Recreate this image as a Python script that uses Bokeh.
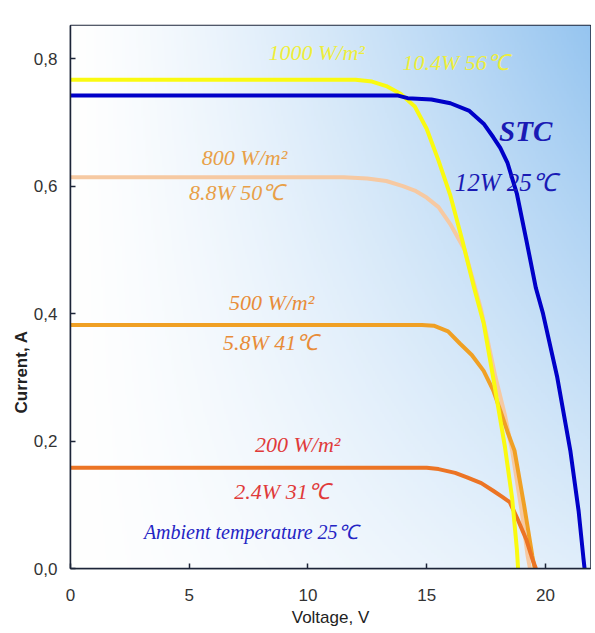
import numpy as np
from bokeh.plotting import figure
from bokeh.models import Range1d, FixedTicker, CustomJSTickFormatter, Title
from bokeh.core.properties import value
from bokeh.embed import file_html
from bokeh.resources import INLINE

# ---- data ----
v_stc = [0, 13.8, 14.2, 15.2, 16.0, 16.8, 17.4, 17.8, 18.1, 18.4, 18.8, 19.2, 19.6, 19.9, 20.5, 21.05, 21.4, 21.6, 21.65]
i_stc = [0.742, 0.742, 0.738, 0.736, 0.73, 0.718, 0.698, 0.677, 0.66, 0.637, 0.588, 0.515, 0.44, 0.40, 0.30, 0.185, 0.09, 0.017, 0.0]

v_1000 = [0, 12.0, 12.7, 13.3, 13.9, 14.5, 15.0, 15.5, 16.0, 16.5, 17.0, 17.4, 17.8, 18.3, 18.6, 18.8, 18.85]
i_1000 = [0.767, 0.767, 0.764, 0.757, 0.745, 0.725, 0.69, 0.64, 0.585, 0.515, 0.44, 0.385, 0.30, 0.19, 0.11, 0.03, 0.0]

v_800 = [0, 11.5, 12.5, 13.3, 14.0, 14.5, 15.0, 15.5, 16.0, 16.6, 17.3, 17.9, 18.3, 18.6, 19.0, 19.25, 19.35]
i_800 = [0.614, 0.614, 0.612, 0.608, 0.6, 0.593, 0.582, 0.567, 0.54, 0.5, 0.405, 0.30, 0.24, 0.185, 0.09, 0.02, 0.0]

v_500 = [0, 14.8, 15.3, 15.9, 16.4, 16.9, 17.4, 17.8, 18.1, 18.4, 18.7, 19.1, 19.45, 19.55]
i_500 = [0.382, 0.382, 0.381, 0.372, 0.353, 0.335, 0.31, 0.28, 0.248, 0.215, 0.185, 0.10, 0.02, 0.0]

v_200 = [0, 15.0, 15.5, 16.2, 16.7, 17.3, 17.8, 18.2, 18.5, 18.8, 19.2, 19.45, 19.6]
i_200 = [0.158, 0.158, 0.156, 0.15, 0.143, 0.134, 0.122, 0.112, 0.104, 0.08, 0.045, 0.015, 0.0]

x_ticks = [0, 5, 10, 15, 20]
y_ticks = [0.0, 0.2, 0.4, 0.6, 0.8]

X_MAX = 21.9
Y_MAX = 0.852

p = figure(width=591, height=630, output_backend="svg", toolbar_location=None,
           x_range=Range1d(0, X_MAX), y_range=Range1d(0, Y_MAX),
           min_border_left=70, min_border_right=1, min_border_top=25, min_border_bottom=62)

p.background_fill_color = "white"
p.border_fill_color = "white"
p.outline_line_color = "#1c2438"
p.outline_line_width = 1.5
p.xgrid.visible = False
p.ygrid.visible = False

# background gradient (white left -> light blue right, stronger at top)
nx, ny = 300, 200
gx = np.linspace(0, 1, nx)[None, :]
gy = np.linspace(0, 1, ny)[:, None]
b = np.clip((gx ** 1.3) * (0.30 + 0.70 * gy), 0, 1)
c0 = np.array([255, 255, 255])
c1 = np.array([150, 197, 240])
img = np.empty((ny, nx), dtype=np.uint32)
view = img.view(dtype=np.uint8).reshape((ny, nx, 4))
for k in range(3):
    view[:, :, k] = (c0[k] * (1 - b) + c1[k] * b).astype(np.uint8)
view[:, :, 3] = 255
p.image_rgba(image=[img], x=0, y=0, dw=X_MAX, dh=Y_MAX)

# curves
p.line(v_800, i_800, line_color="#F6C9A2", line_width=4)
p.line(v_500, i_500, line_color="#F0A024", line_width=4)
p.line(v_200, i_200, line_color="#EC7424", line_width=4)
p.line(v_1000, i_1000, line_color="#FAFA10", line_width=4)
p.line(v_stc, i_stc, line_color="#0000C8", line_width=4)

# axes
for ax in (p.xaxis[0], p.yaxis[0]):
    ax.axis_line_color = "#1c2438"
    ax.axis_line_width = 1.5
    ax.major_tick_in = 5
    ax.major_tick_out = 0
    ax.major_tick_line_color = "#1c2438"
    ax.major_tick_line_width = 1.5
    ax.minor_tick_line_color = None
    ax.major_label_text_font = "Liberation Sans"
    ax.major_label_text_font_size = "17px"
    ax.major_label_text_color = "#333333"

p.xaxis.ticker = FixedTicker(ticks=x_ticks)
p.yaxis.ticker = FixedTicker(ticks=y_ticks)
p.yaxis.formatter = CustomJSTickFormatter(code="return tick.toFixed(1).replace('.', ',');")
p.xaxis.major_label_standoff = 20
p.yaxis.major_label_standoff = 13

p.xaxis.axis_label = "Voltage, V"
p.xaxis.axis_label_text_font = "Liberation Sans"
p.xaxis.axis_label_text_font_style = "normal"
p.xaxis.axis_label_text_font_size = "17px"
p.xaxis.axis_label_text_color = "#222222"
p.xaxis.axis_label_standoff = 4

ytitle = Title(text="Current, A", align="left", offset=155, standoff=0,
               text_font="Liberation Sans", text_font_style="bold", text_font_size="17px",
               text_color="#222222")
p.add_layout(ytitle, "left")

# annotations
ann = [
    ("1000 W/m²", 10.37, 0.809, "#EEEE3A", "22px", "italic"),
    ("10.4W 56℃", 16.22, 0.794, "#EEEE3A", "22px", "italic"),
    ("800 W/m²", 7.33, 0.645, "#E8A048", "22px", "italic"),
    ("8.8W 50℃", 7.0, 0.59, "#E8A048", "22px", "italic"),
    ("STC", 19.17, 0.687, "#1A1AB4", "29px", "bold italic"),
    ("12W 25℃", 18.33, 0.605, "#1A1AB4", "25px", "italic"),
    ("500 W/m²", 8.47, 0.417, "#E88C38", "22px", "italic"),
    ("5.8W 41℃", 8.43, 0.355, "#E88C38", "22px", "italic"),
    ("200 W/m²", 9.57, 0.195, "#E03A3A", "22px", "italic"),
    ("2.4W   31℃", 9.14, 0.121, "#E03A3A", "22px", "italic"),
    ("Ambient temperature 25℃", 7.59, 0.058, "#2424C4", "20px", "italic"),
]
for t, x, y, col, size, style in ann:
    p.text(x=[x], y=[y], text=[t], text_color=col, text_font=value("Liberation Serif"),
           text_font_size=size, text_font_style=style, text_align="center", text_baseline="middle")

open("out.html", "w").write(file_html(p, INLINE))
